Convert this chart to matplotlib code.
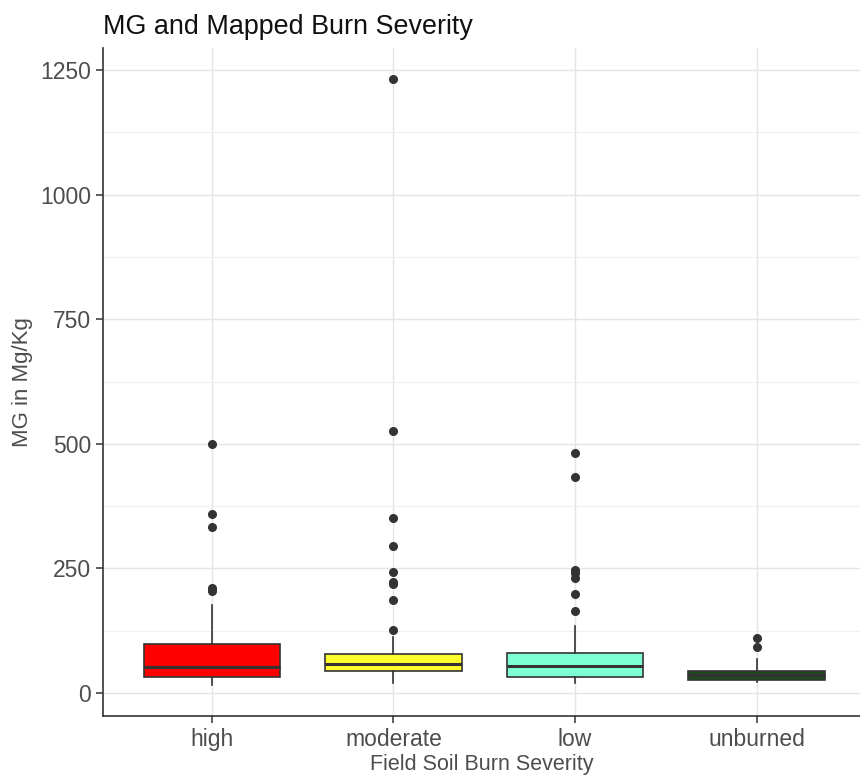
import matplotlib.pyplot as plt
import numpy as np

plt.rcParams['font.family'] = ['Liberation Sans', 'DejaVu Sans']

# Data (box summaries read per severity class, in Mg/Kg)
categories = ['high', 'moderate', 'low', 'unburned']
q1 = [32, 44, 32, 26]
median = [52, 58, 54, 36]
q3 = [98, 78, 80, 44]
whisker_low = [16, 20, 20, 22]
whisker_high = [176, 112, 134, 68]
outliers = [
    [500, 359, 333, 211, 205],
    [1232, 526, 351, 295, 243, 223, 219, 187, 126],
    [481, 433, 247, 240, 231, 199, 165],
    [110, 92],
]
box_colors = ['#FF0000', '#FFFF2E', '#7FFFD4', '#1E4A1C']

stats = []
for i, name in enumerate(categories):
    stats.append({'label': name, 'med': median[i], 'q1': q1[i], 'q3': q3[i],
                  'whislo': whisker_low[i], 'whishi': whisker_high[i],
                  'fliers': outliers[i]})

fig = plt.figure(figsize=(8.6, 7.79), dpi=100)
ax = fig.add_axes([103 / 860, 1 - 716 / 779, 757 / 860, (716 - 48) / 779])

positions = np.arange(1, len(categories) + 1)
bp = ax.bxp(stats, positions=positions, widths=0.75, patch_artist=True,
            showcaps=False,
            boxprops=dict(edgecolor='#333333', linewidth=1.2),
            medianprops=dict(color='#333333', linewidth=2.2),
            whiskerprops=dict(color='#333333', linewidth=1.2),
            flierprops=dict(marker='o', markersize=5.5, markerfacecolor='#333333',
                            markeredgecolor='#333333'))
for patch, c in zip(bp['boxes'], box_colors):
    patch.set_facecolor(c)
    patch.set_zorder(3)
for key in ['medians', 'whiskers', 'fliers']:
    for art in bp[key]:
        art.set_zorder(4)

ax.set_xlim(0.4, 4.57)
ax.set_ylim(-46, 1294)
ax.set_yticks([0, 250, 500, 750, 1000, 1250])
ax.set_yticks([125, 375, 625, 875, 1125], minor=True)
ax.set_xticks(positions)
ax.set_xticklabels(categories)

ax.grid(True, which='major', color='#E5E5E5', linewidth=1.0, zorder=0)
ax.grid(True, which='minor', axis='y', color='#F0F0F0', linewidth=0.8, zorder=0)
ax.set_axisbelow(True)

for side in ['top', 'right']:
    ax.spines[side].set_visible(False)
for side in ['left', 'bottom']:
    ax.spines[side].set_color('#333333')
    ax.spines[side].set_linewidth(1.2)

ax.tick_params(axis='both', which='major', labelsize=16.5, labelcolor='#4D4D4D',
               color='#333333', length=5, width=1.1)
ax.tick_params(axis='y', which='minor', length=0)

ax.set_xlabel('Field Soil Burn Severity', fontsize=15.5, color='#4D4D4D', labelpad=2)
ax.set_ylabel('MG in Mg/Kg', fontsize=16, color='#4D4D4D', labelpad=5)
ax.set_title('MG and Mapped Burn Severity', fontsize=19.4, loc='left', color='#111111', pad=10)

fig.savefig('out.png', dpi=100)
